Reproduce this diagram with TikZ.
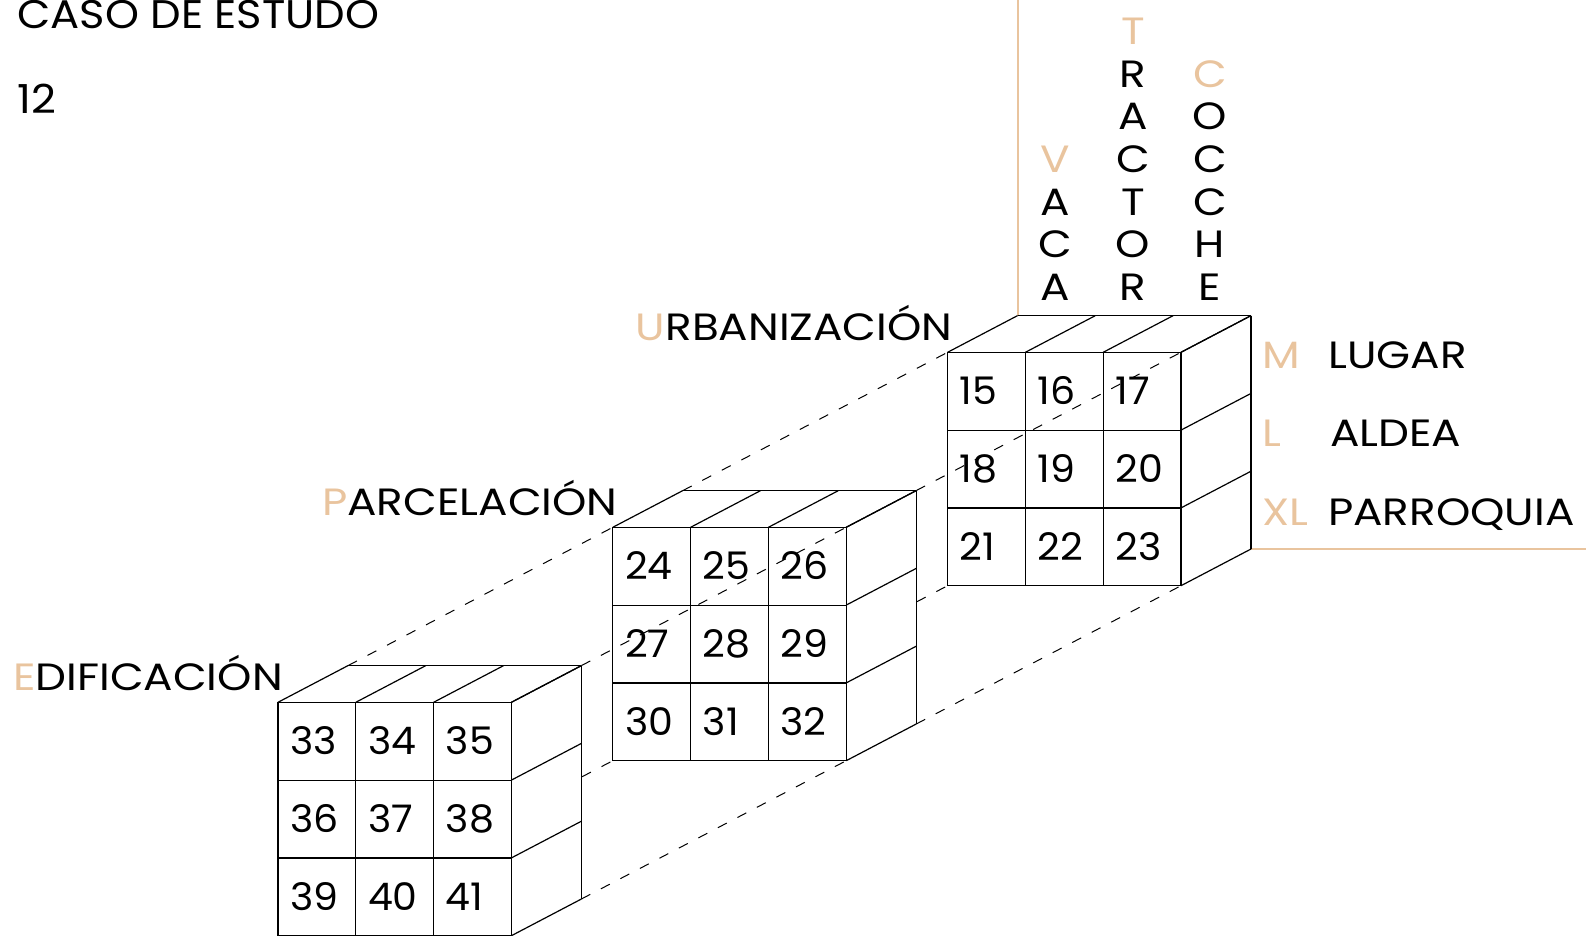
\documentclass[tikz,border=0pt]{standalone}
\usepackage{fontspec}
\setmainfont{Poppins}
\newfontfamily\widefont{Poppins}[FakeStretch=1.15]
\newfontfamily\titlefont{Poppins}[FakeStretch=1.08]
\newfontfamily\numfont{Poppins}[FakeStretch=1.04]
\definecolor{peach}{RGB}{233,196,158}
\def\cs{77.8}
\def\dx{70}
\def\dy{36.7}
\newcommand\cubecoords[3]{%
  \coordinate (#1-ftl) at (#2,#3);
  \coordinate (#1-ftr) at ({#2+3*\cs},#3);
  \coordinate (#1-fbl) at (#2,{#3+3*\cs});
  \coordinate (#1-fbr) at ({#2+3*\cs},{#3+3*\cs});
  \coordinate (#1-btl) at ({#2+\dx},{#3-\dy});
  \coordinate (#1-btr) at ({#2+3*\cs+\dx},{#3-\dy});
  \coordinate (#1-bbl) at ({#2+\dx},{#3+3*\cs-\dy});
  \coordinate (#1-bbr) at ({#2+3*\cs+\dx},{#3+3*\cs-\dy});
}
\newcommand\drawcube[4]{%
  \begin{scope}[shift={(#2,#3)}]
    \fill[white] (0,0) -- (\dx,-\dy) -- ({3*\cs+\dx},-\dy) -- ({3*\cs+\dx},{3*\cs-\dy}) -- ({3*\cs},{3*\cs}) -- (0,{3*\cs}) -- cycle;
    \foreach \i in {0,...,3}{
      \draw[cubeline] ({\i*\cs},0) -- ({\i*\cs},{3*\cs});
      \draw[cubeline] (0,{\i*\cs}) -- ({3*\cs},{\i*\cs});
      \draw[cubeline] ({\i*\cs},0) -- ++(\dx,-\dy);
      \draw[cubeline] ({3*\cs},{\i*\cs}) -- ++(\dx,-\dy);
    }
    \draw[cubeline] (\dx,-\dy) -- ++({3*\cs},0);
    \draw[cubeline] ({3*\cs+\dx},-\dy) -- ++(0,{3*\cs});
    \foreach \r in {0,1,2}{
      \foreach \c in {0,1,2}{
        \pgfmathtruncatemacro\cellno{#4+3*\r+\c}
        \node[cellnum] (#1-\r-\c) at ({\c*\cs+12},{\r*\cs+\cs/2+13.3}) {\cellno};
      }
    }
  \end{scope}
}
\begin{document}
\begin{tikzpicture}[x=1pt,y=-1pt,
  cubeline/.style={line width=1.2pt, black},
  dashline/.style={line width=1pt, black, dash pattern=on 10pt off 12pt},
  axisline/.style={line width=2pt, peach},
  cellnum/.style={anchor=base west, inner sep=0pt, font=\numfont\fontsize{38}{40}\selectfont},
  lbl/.style={inner sep=0pt, font=\widefont\fontsize{38}{40}\selectfont},
  ttl/.style={inner sep=0pt, anchor=base west, font=\titlefont\fontsize{40}{42}\selectfont}]
\useasboundingbox (0,0) rectangle (1586,936);
\coordinate (topedge) at (0,0);
\coordinate (rightedge) at (1586,0);
\cubecoords{t}{947.6}{352.3}
\cubecoords{m}{612.8}{527.3}
\cubecoords{b}{278.0}{702.3}
% axes
\draw[axisline] (t-btl) -- (t-btl |- topedge);
\draw[axisline] (t-bbr) -- (t-bbr -| rightedge);
% top cube
\drawcube{t}{947.6}{352.3}{15}
\draw[dashline] (m-btl) -- (t-ftl);
\draw[dashline] (m-btr) -- (t-ftr);
\draw[dashline] (m-bbl) -- (t-fbl);
\draw[dashline] (m-bbr) -- (t-fbr);
% middle cube
\drawcube{m}{612.8}{527.3}{24}
\draw[dashline] (b-btl) -- (m-ftl);
\draw[dashline] (b-btr) -- (m-ftr);
\draw[dashline] (b-bbl) -- (m-fbl);
\draw[dashline] (b-bbr) -- (m-fbr);
% bottom cube
\drawcube{b}{278.0}{702.3}{33}
% cube labels
\node[lbl, anchor=base east] (lab-t) at ([xshift=5pt,yshift=12.3pt]t-ftl) {\textcolor{peach}{U}RBANIZACIÓN};
\node[lbl, anchor=base east] (lab-m) at ([xshift=5pt,yshift=12.3pt]m-ftl) {\textcolor{peach}{P}ARCELACIÓN};
\node[lbl, anchor=base east] (lab-b) at ([xshift=5pt,yshift=12.3pt]b-ftl) {\textcolor{peach}{E}DIFICACIÓN};
% title
\node[ttl] (title) at (17,28.3) {CASO DE ESTUDO};
\node[ttl] (num) at (17,113.3) {12};
% vertical words
\node[lbl, anchor=base, text=peach] (vaca-0) at (1055,172.5) {V};
\foreach \l [count=\i] in {A,C,A}
  \node[lbl, anchor=base] (vaca-\i) at (1055,{172.5+\i*42.5}) {\l};
\node[lbl, anchor=base, text=peach] (tractor-0) at (1133,45) {T};
\foreach \l [count=\i] in {R,A,C,T,O,R}
  \node[lbl, anchor=base] (tractor-\i) at (1133,{45+\i*42.5}) {\l};
\node[lbl, anchor=base, text=peach] (coche-0) at (1210,87.5) {C};
\foreach \l [count=\i] in {O,C,C,H,E}
  \node[lbl, anchor=base] (coche-\i) at (1210,{87.5+\i*42.5}) {\l};
% scale labels
\node[lbl, anchor=base west, text=peach] (sz-m) at (1262,368.3) {M};
\node[lbl, anchor=base west, text=peach] (sz-l) at (1262,446.7) {L};
\node[lbl, anchor=base west, text=peach] (sz-xl) at (1262,525) {XL};
\node[lbl, anchor=base west] (nm-m) at (1328,368.3) {LUGAR};
\node[lbl, anchor=base west] (nm-l) at (1330,446.7) {ALDEA};
\node[lbl, anchor=base west] (nm-xl) at (1328,525) {PARROQUIA};
\end{tikzpicture}
\end{document}
